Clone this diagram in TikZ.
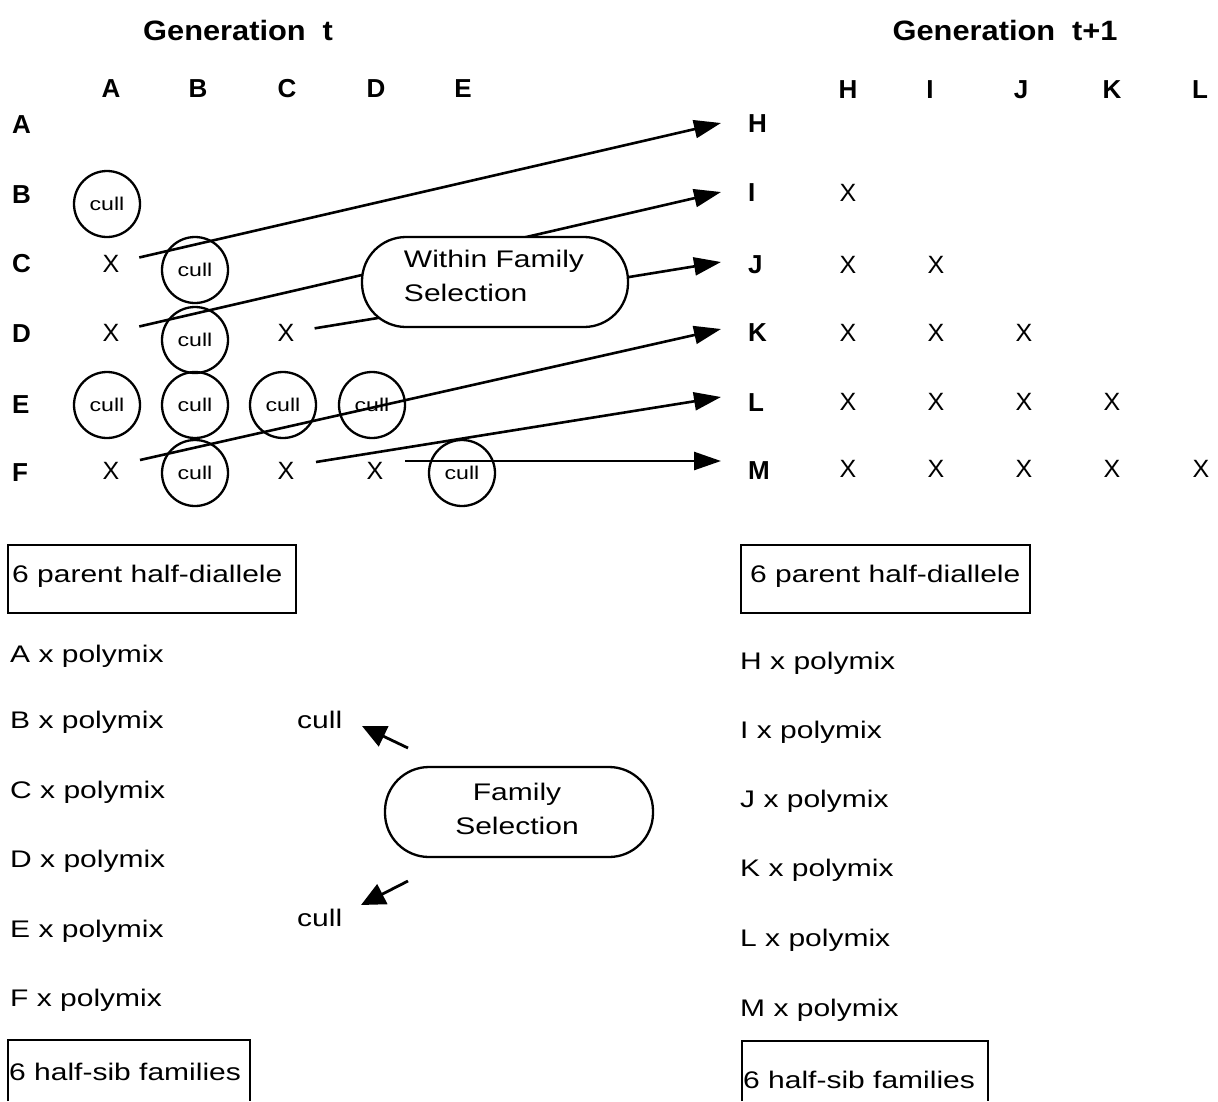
\documentclass[tikz,border=0pt]{standalone}
\usepackage{fontspec}
\setmainfont{Liberation Sans}
\newfontfamily\wf[FakeStretch=1.25]{Liberation Sans}
\newfontfamily\gf[FakeStretch=1.1]{Liberation Sans}
\usetikzlibrary{arrows.meta}
\tikzset{
  txt/.style={font=\wf\fontsize{24}{34}\selectfont, inner sep=0pt, anchor=west},
  lbl/.style={font=\bfseries\fontsize{26}{28}\selectfont, inner sep=0pt},
  gen/.style={font=\gf\bfseries\fontsize{28}{30}\selectfont, inner sep=0pt},
  xm/.style={font=\fontsize{25}{28}\selectfont, inner sep=0pt},
  cullc/.style={draw, circle, line width=2.3pt, minimum size=66pt, inner sep=0pt, font=\wf\fontsize{18.5}{20}\selectfont},
  link/.style={line width=2.6pt, -{Triangle[length=27pt,width=18pt]}},
  small/.style={line width=2.8pt, -{Triangle[length=24pt,width=22pt]}},
  pill/.style={draw, fill=white, line width=2.3pt, rounded corners=44pt, minimum height=90pt, inner sep=0pt},
  ptext/.style={font=\wf\fontsize{24}{34}\selectfont, inner sep=0pt},
  frame/.style={draw, line width=2.4pt},
}
\begin{document}
\begin{tikzpicture}[x=1pt,y=-1pt]
\useasboundingbox (0,0) rectangle (1218,1101);
% headings
\node[gen] (g1) at (238,30) {Generation\hspace{0.6em}t};
\node[gen] (g2) at (1005,30) {Generation\hspace{0.6em}t+1};
% left column headers
\node[lbl] (cA) at (111,89) {A};
\node[lbl] (cB) at (198,89) {B};
\node[lbl] (cC) at (287,89) {C};
\node[lbl] (cD) at (376,89) {D};
\node[lbl] (cE) at (463,89) {E};
% left row labels
\node[lbl,anchor=west] (rA) at (12,125) {A};
\node[lbl,anchor=west] (rB) at (12,195) {B};
\node[lbl,anchor=west] (rC) at (12,264) {C};
\node[lbl,anchor=west] (rD) at (12,334) {D};
\node[lbl,anchor=west] (rE) at (12,405) {E};
\node[lbl,anchor=west] (rF) at (12,473) {F};
% right column headers
\node[lbl] (cH) at (848,90) {H};
\node[lbl] (cI) at (930,90) {I};
\node[lbl] (cJ) at (1021,90) {J};
\node[lbl] (cK) at (1112,90) {K};
\node[lbl] (cL) at (1200,90) {L};
% right row labels
\node[lbl,anchor=west] (rH) at (748,124) {H};
\node[lbl,anchor=west] (rI) at (748,193) {I};
\node[lbl,anchor=west] (rJ) at (748,265) {J};
\node[lbl,anchor=west] (rK) at (748,333) {K};
\node[lbl,anchor=west] (rL) at (748,403) {L};
\node[lbl,anchor=west] (rM) at (748,471) {M};
% left grid X marks
\node[xm] (xCA) at (111,264) {X};
\node[xm] (xDA) at (111,333) {X};
\node[xm] (xDC) at (286,333) {X};
\node[xm] (xFA) at (111,471) {X};
\node[xm] (xFC) at (286,471) {X};
\node[xm] (xFD) at (375,471) {X};
% cull circles
\node[cullc] (kBA) at (107,204) {cull};
\node[cullc] (kCB) at (195,270) {cull};
\node[cullc] (kDB) at (195,340) {cull};
\node[cullc] (kEA) at (107,405) {cull};
\node[cullc] (kEB) at (195,405) {cull};
\node[cullc] (kEC) at (283,405) {cull};
\node[cullc] (kED) at (372,405) {cull};
\node[cullc] (kFB) at (195,473) {cull};
\node[cullc] (kFE) at (462,473) {cull};
% right grid X marks
\node[xm] (yIH) at (848,193) {X};
\node[xm] (yJH) at (848,265) {X};
\node[xm] (yJI) at (936,265) {X};
\node[xm] (yKH) at (848,333) {X};
\node[xm] (yKI) at (936,333) {X};
\node[xm] (yKJ) at (1024,333) {X};
\node[xm] (yLH) at (848,402) {X};
\node[xm] (yLI) at (936,402) {X};
\node[xm] (yLJ) at (1024,402) {X};
\node[xm] (yLK) at (1112,402) {X};
\node[xm] (yMH) at (848,469) {X};
\node[xm] (yMI) at (936,469) {X};
\node[xm] (yMJ) at (1024,469) {X};
\node[xm] (yMK) at (1112,469) {X};
\node[xm] (yML) at (1201,469) {X};
% arrow tips
\coordinate (tH) at (721,123);
\coordinate (tI) at (721,192);
\coordinate (tJ) at (721,262);
\coordinate (tK) at (721,329);
\coordinate (tL) at (721,397);
\coordinate (tM) at (721,461);
% selection arrows
\draw[link, shorten <=29pt] (xCA.center) -- (tH);
\draw[link, shorten <=29pt] (xDA.center) -- (tI);
\draw[link, shorten <=29pt] (xDC.center) -- (tJ);
\draw[link] ([xshift=29pt,yshift=11pt]xFA.center) -- (tK);
\draw[link] ([xshift=30pt,yshift=9pt]xFC.center) -- (tL);
\draw[link] ([xshift=30pt,yshift=10pt]xFD.center) -- (tM);
% within family selection
\node[pill, minimum width=266pt] (wfs) at (495,282) {};
\node[ptext, align=left] (wfst) at (494,276) {Within Family\\Selection};
% half-diallele frames
\draw[frame] (8,545) rectangle (296,613);
\node[txt] (hd1) at (12,576) {6 parent half-diallele};
\draw[frame] (741,545) rectangle (1030,613);
\node[txt] (hd2) at (750,576) {6 parent half-diallele};
% polymix lists
\node[txt] (pA) at (10,656) {A x polymix};
\node[txt] (pB) at (10,722) {B x polymix};
\node[txt] (pC) at (10,792) {C x polymix};
\node[txt] (pD) at (10,861) {D x polymix};
\node[txt] (pE) at (10,931) {E x polymix};
\node[txt] (pF) at (10,1000) {F x polymix};
\node[txt] (pH) at (740,663) {H x polymix};
\node[txt] (pI) at (740,732) {I x polymix};
\node[txt] (pJ) at (740,801) {J x polymix};
\node[txt] (pK) at (740,870) {K x polymix};
\node[txt] (pL) at (740,940) {L x polymix};
\node[txt] (pM) at (740,1010) {M x polymix};
% family selection
\node[pill, minimum width=268pt] (fs) at (519,812) {};
\node[ptext, align=center] (fst) at (517,809) {Family\\Selection};
\node[txt] (cu1) at (297,720) {cull};
\node[txt] (cu2) at (297,918) {cull};
\coordinate (f1s) at (408,748);
\coordinate (f1e) at (362,726);
\coordinate (f2s) at (408,881);
\coordinate (f2e) at (361,905);
\draw[small] (f1s) -- (f1e);
\draw[small] (f2s) -- (f2e);
% half-sib frames
\draw[frame] (8,1101) -- (8,1040) -- (250,1040) -- (250,1101);
\node[txt] (hs1) at (9,1072) {6 half-sib families};
\draw[frame] (742,1101) -- (742,1041) -- (988,1041) -- (988,1101);
\node[txt] (hs2) at (743,1080) {6 half-sib families};
\end{tikzpicture}
\end{document}
